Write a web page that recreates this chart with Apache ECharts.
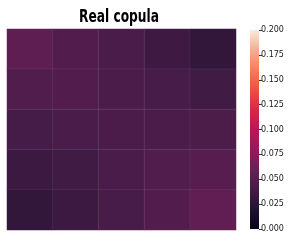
<!DOCTYPE html>
<html><head><meta charset="utf-8">
<script src="https://cdn.jsdelivr.net/npm/echarts@6/dist/echarts.min.js"></script>
<style>html,body{margin:0;padding:0;background:#fff}#c{width:300px;height:245px}</style>
</head><body><div id="c"></div>
<script>
const xCats = ['0','1','2','3','4'];
const yCats = ['0','1','2','3','4'];
// rows top to bottom
const row0 = [0.053, 0.047, 0.042, 0.036, 0.029];
const row1 = [0.046, 0.047, 0.043, 0.041, 0.037];
const row2 = [0.040, 0.042, 0.043, 0.043, 0.044];
const row3 = [0.034, 0.037, 0.042, 0.046, 0.049];
const row4 = [0.029, 0.034, 0.041, 0.047, 0.054];
const rows = [row0, row1, row2, row3, row4];
const cbTicks = [0, 0.025, 0.05, 0.075, 0.1, 0.125, 0.15, 0.175, 0.2];
const titleText = 'Real copula';
const rocket = ['#03051A','#221331','#451C47','#6B1F56','#921C5B','#B91657','#D92847','#ED513E','#F47F58','#F6AD8F','#FAEBDD'];

const data = [];
rows.forEach((r, i) => r.forEach((v, j) => data.push([j, i, v])));

const chart = echarts.init(document.getElementById('c'), null, {renderer: 'canvas'});
chart.setOption({
  animation: false,
  graphic: [{
    type: 'text', x: 119, y: 18, scaleX: 0.8, scaleY: 1,
    style: {text: titleText, fontFamily: 'DejaVu Sans Condensed, DejaVu Sans', fontWeight: 'bold', fontSize: 17,
      fill: '#000', align: 'center', verticalAlign: 'middle'}
  }],
  grid: [
    {left: 7, top: 29, width: 229, height: 201},
    {left: 250, top: 30, width: 9, height: 199}
  ],
  xAxis: [
    {type: 'category', data: xCats, gridIndex: 0, show: false},
    {type: 'category', data: ['cb'], gridIndex: 1, show: false}
  ],
  yAxis: [
    {type: 'category', data: yCats, gridIndex: 0, inverse: true, show: false},
    {type: 'value', gridIndex: 1, position: 'right', min: 0, max: 0.2, interval: 0.025,
      axisLine: {show: false}, splitLine: {show: false},
      axisTick: {show: true, length: 3, lineStyle: {color: '#333', width: 1}},
      axisLabel: {margin: 2, fontSize: 8, color: '#222', fontFamily: 'DejaVu Sans',
        formatter: v => v.toFixed(3)}}
  ],
  visualMap: {show: false, min: 0, max: 0.2, seriesIndex: 0, inRange: {color: rocket}},
  series: [
    {type: 'heatmap', xAxisIndex: 0, yAxisIndex: 0, data: data,
      itemStyle: {borderWidth: 0.5, borderColor: 'rgba(255,255,255,0.12)'}},
    {type: 'bar', xAxisIndex: 1, yAxisIndex: 1, data: [cbTicks[cbTicks.length - 1]], barWidth: '100%',
      itemStyle: {color: new echarts.graphic.LinearGradient(0, 1, 0, 0, rocket.map((c, i) => ({offset: i / (rocket.length - 1), color: c})))}}
  ]
});
</script></body></html>
